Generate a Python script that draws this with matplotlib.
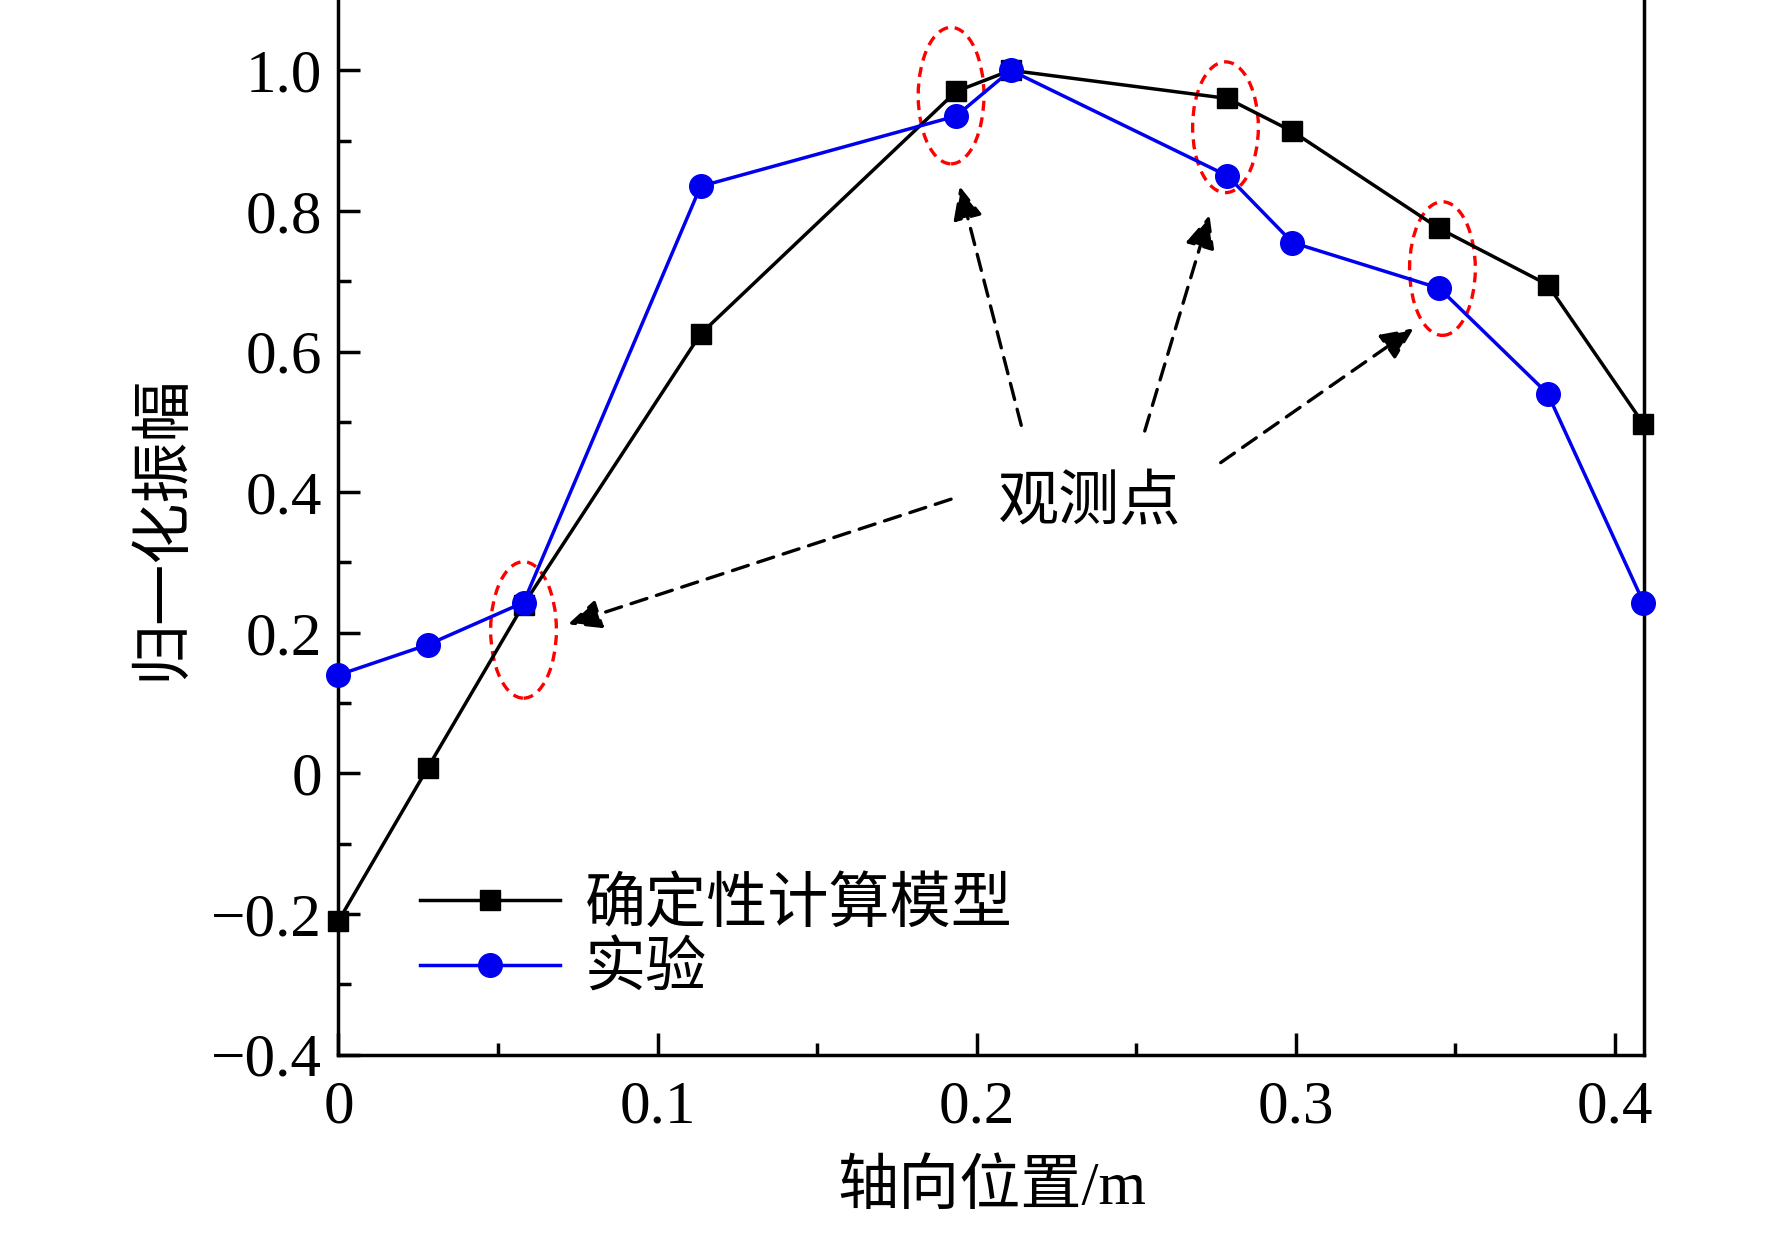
import matplotlib
matplotlib.use("Agg")
import matplotlib.pyplot as plt
from matplotlib.patches import Ellipse

plt.rcParams['font.family'] = ['Liberation Serif', 'Noto Sans CJK SC']
plt.rcParams['axes.unicode_minus'] = True

x = [0, 0.028, 0.058, 0.1135, 0.1936, 0.2107, 0.2786, 0.299, 0.345, 0.379, 0.409]
model = [-0.21, 0.008, 0.24, 0.625, 0.97, 1.0, 0.96, 0.913, 0.775, 0.695, 0.497]
exper = [0.14, 0.183, 0.243, 0.835, 0.935, 1.0, 0.85, 0.755, 0.69, 0.54, 0.243]
ell_centers = [(0.058, 0.204), (0.192, 0.964), (0.278, 0.919), (0.346, 0.718)]
ell_heights = [0.194, 0.194, 0.186, 0.19]
arrow_pairs = [((0.214, 0.495), (0.1947, 0.835)), ((0.2527, 0.487), (0.273, 0.794)),
               ((0.2765, 0.442), (0.337, 0.633)), ((0.192, 0.39), (0.0719, 0.212))]

fig = plt.figure(figsize=(17.72, 12.51), dpi=100)
ax = fig.add_axes([0.191, 0.157, 0.737, 0.843])
ax.plot(x, model, '-s', color='black', lw=2.5, ms=15, label='确定性计算模型', clip_on=False, zorder=3)
ax.plot(x, exper, '-o', color='#0000ee', lw=2.5, ms=17, label='实验', clip_on=False, zorder=4)
ax.set_xlim(0, 0.4093)
ax.set_ylim(-0.4, 1.1)
ax.set_xticks([0, 0.1, 0.2, 0.3, 0.4])
ax.set_xticklabels(['0', '0.1', '0.2', '0.3', '0.4'])
ax.set_xticks([0.05, 0.15, 0.25, 0.35], minor=True)
ax.set_yticks([-0.4, -0.2, 0, 0.2, 0.4, 0.6, 0.8, 1.0])
ax.set_yticklabels(['\u22120.4', '\u22120.2', '0', '0.2', '0.4', '0.6', '0.8', '1.0'])
ax.set_yticks([-0.3, -0.1, 0.1, 0.3, 0.5, 0.7, 0.9], minor=True)
ax.tick_params(which='both', direction='in', labelsize=44, width=2.5, top=False, right=False)
ax.tick_params(which='major', length=16)
ax.tick_params(which='minor', length=9)
ax.tick_params(axis='x', pad=18)
ax.tick_params(axis='y', pad=12)
for s in ax.spines.values():
    s.set_linewidth(2.5)
ax.spines['top'].set_visible(False)
ax.set_xlabel('轴向位置/m', fontsize=44, labelpad=18)
ax.set_ylabel('归一化振幅', fontsize=44, labelpad=14)

for (cx, cy), h in zip(ell_centers, ell_heights):
    ax.add_patch(Ellipse((cx, cy), 0.0206, h, fill=False, ec='red', ls=(0, (3, 2)), lw=2.4))
for (s, e) in arrow_pairs:
    ax.annotate('', xy=e, xytext=s,
                arrowprops=dict(arrowstyle='-|>,head_length=2.0,head_width=0.9', color='black',
                                lw=2.4, ls=(0, (5, 3)), shrinkA=0, shrinkB=0))
ax.text(0.2355, 0.382, '观测点', fontsize=44, ha='center', va='center')
ax.legend(loc='lower left', bbox_to_anchor=(0.02, 0.0), frameon=False, fontsize=44,
          handlelength=2.3, handletextpad=0.4, labelspacing=0.15)
fig.savefig('out.png', dpi=100)
